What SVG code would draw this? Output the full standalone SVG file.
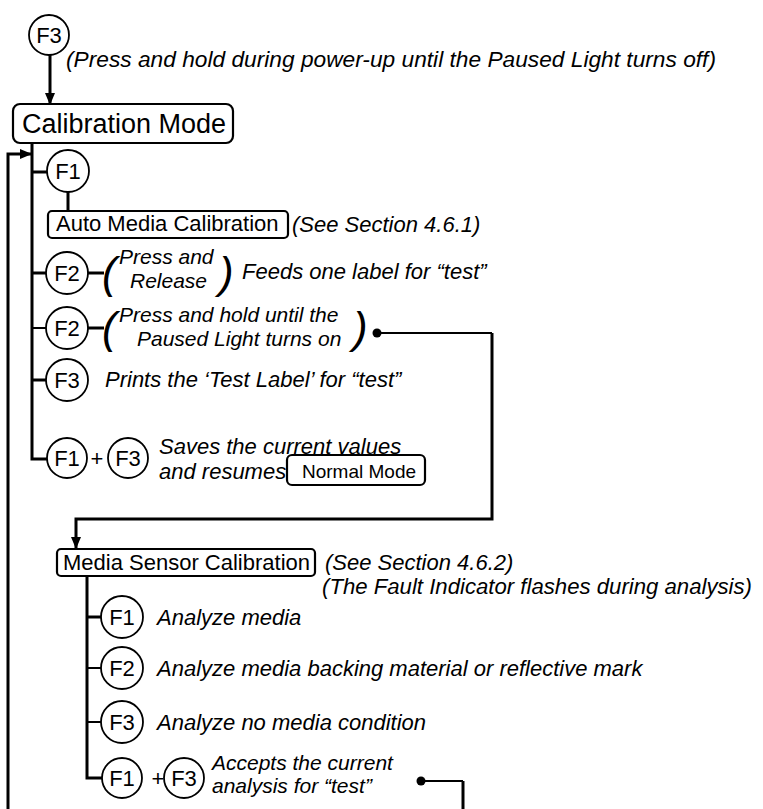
<svg xmlns="http://www.w3.org/2000/svg" width="763" height="809" viewBox="0 0 763 809">
<defs>
<style>
.k{fill:#fff;stroke:#000;stroke-width:1.8}
.kt{font-family:"Liberation Sans",Arial,sans-serif;font-size:22px;fill:#000}
.box{fill:#fff;stroke:#000;stroke-width:2.2}
.bt{font-family:"Liberation Sans",Arial,sans-serif;font-size:22px;fill:#000}
.it{font-family:"Liberation Sans",Arial,sans-serif;font-size:22px;font-style:italic;fill:#000}
.sm{font-size:21px}
.par{font-family:"Liberation Sans",Arial,sans-serif;font-size:44px;font-style:italic;fill:#000}
.ln{fill:none;stroke:#000;stroke-width:3}
.thin{fill:none;stroke:#000;stroke-width:2}
</style>
<marker id="ah" markerWidth="12" markerHeight="10" refX="11" refY="5" orient="auto" markerUnits="userSpaceOnUse">
<path d="M0,0 L12,5 L0,10 Z" fill="#000"/>
</marker>
</defs>
<rect width="763" height="809" fill="#fff"/>

<g id="connectors">
<path class="ln" d="M50,55 V104" marker-end="url(#ah)"/>
<path class="ln" d="M32,143 V459 H47"/>
<path class="ln" d="M32,172 H47"/>
<path class="ln" d="M68,192 V211"/>
<path class="ln" d="M32,273 H47"/>
<path class="ln" d="M88,273 H104"/>
<path class="thin" d="M32,328 H47"/>
<path class="ln" d="M88,328 H104"/>
<path class="ln" d="M32,380 H47"/>
<path class="ln" d="M8,809 V154 H31" marker-end="url(#ah)"/>
<path class="thin" d="M377,333 H492"/>
<circle cx="377" cy="333" r="4.5" fill="#000"/>
<path class="ln" d="M492,333 V519 H76 V548" marker-end="url(#ah)"/>
<path class="ln" d="M87,576 V778 H102"/>
<path class="ln" d="M87,617 H102"/>
<path class="thin" d="M87,668 H102"/>
<path class="thin" d="M87,722 H102"/>
<path class="thin" d="M421,781 H463"/>
<path class="ln" d="M463,781 V809"/>
<circle cx="421" cy="781" r="4.5" fill="#000"/>
</g>

<g id="top-f3">
<circle class="k" cx="49" cy="35" r="20"/>
<text class="kt" x="49" y="43" text-anchor="middle">F3</text>
<text class="it" x="66" y="67" textLength="650" lengthAdjust="spacingAndGlyphs">(Press and hold during power-up until the Paused Light turns off)</text>
</g>

<g id="calibration-mode">
<rect class="box" x="13" y="104" width="220" height="39" rx="7"/>
<text class="bt" x="22" y="133" style="font-size:27px">Calibration Mode</text>
</g>

<g id="cal-f1">
<circle class="k" cx="68" cy="171" r="21"/>
<text class="kt" x="68" y="179" text-anchor="middle">F1</text>
</g>

<g id="auto-media">
<rect class="box" x="48" y="211" width="240" height="27" rx="4"/>
<text class="bt" x="56" y="231">Auto Media Calibration</text>
<text class="it" x="292" y="232">(See Section 4.6.1)</text>
</g>

<g id="cal-f2-press">
<circle class="k" cx="67" cy="273" r="21"/>
<text class="kt" x="67" y="281" text-anchor="middle">F2</text>
<text class="par" x="102" y="288">(</text>
<text class="it sm" x="119" y="264">Press and</text>
<text class="it sm" x="130" y="288">Release</text>
<text class="par" x="219" y="288">)</text>
<text class="it" x="242" y="279">Feeds one label for “test”</text>
</g>

<g id="cal-f2-hold">
<circle class="k" cx="67" cy="328" r="21"/>
<text class="kt" x="67" y="336" text-anchor="middle">F2</text>
<text class="par" x="102" y="343">(</text>
<text class="it sm" x="119" y="322">Press and hold until the</text>
<text class="it sm" x="137" y="346">Paused Light turns on</text>
<text class="par" x="353" y="343">)</text>
</g>

<g id="cal-f3">
<circle class="k" cx="67" cy="380" r="21"/>
<text class="kt" x="67" y="388" text-anchor="middle">F3</text>
<text class="it" x="105" y="387">Prints the ‘Test Label’ for “test”</text>
</g>

<g id="cal-f1f3">
<circle class="k" cx="67" cy="458" r="20"/>
<text class="kt" x="67" y="466" text-anchor="middle">F1</text>
<text class="kt" x="97" y="466" text-anchor="middle">+</text>
<text class="it" x="159" y="454">Saves the current values</text>
<circle class="k" cx="128" cy="458" r="20"/>
<text class="kt" x="128" y="466" text-anchor="middle">F3</text>
<text class="it" x="159" y="479">and resumes</text>
<rect class="box" x="287" y="455" width="138" height="30" rx="5"/>
<text class="bt" x="302" y="478" style="font-size:19px">Normal Mode</text>
</g>

<g id="media-sensor">
<rect class="box" x="57" y="549" width="258" height="27" rx="4"/>
<text class="bt" x="63" y="570">Media Sensor Calibration</text>
<text class="it" x="325" y="570">(See Section 4.6.2)</text>
<text class="it" x="322" y="594" textLength="430" lengthAdjust="spacingAndGlyphs">(The Fault Indicator flashes during analysis)</text>
</g>

<g id="ms-f1">
<circle class="k" cx="122" cy="617" r="21"/>
<text class="kt" x="122" y="625" text-anchor="middle">F1</text>
<text class="it" x="157" y="625">Analyze media</text>
</g>

<g id="ms-f2">
<circle class="k" cx="122" cy="668" r="21"/>
<text class="kt" x="122" y="676" text-anchor="middle">F2</text>
<text class="it" x="157" y="676">Analyze media backing material or reflective mark</text>
</g>

<g id="ms-f3">
<circle class="k" cx="122" cy="722" r="21"/>
<text class="kt" x="122" y="730" text-anchor="middle">F3</text>
<text class="it" x="157" y="730">Analyze no media condition</text>
</g>

<g id="ms-f1f3">
<circle class="k" cx="122" cy="778" r="20"/>
<text class="kt" x="122" y="786" text-anchor="middle">F1</text>
<text class="kt" x="158" y="786" text-anchor="middle">+</text>
<circle class="k" cx="184" cy="778" r="20"/>
<text class="kt" x="184" y="786" text-anchor="middle">F3</text>
<text class="it sm" x="212" y="770">Accepts the current</text>
<text class="it sm" x="212" y="793">analysis for “test”</text>
</g>
</svg>
